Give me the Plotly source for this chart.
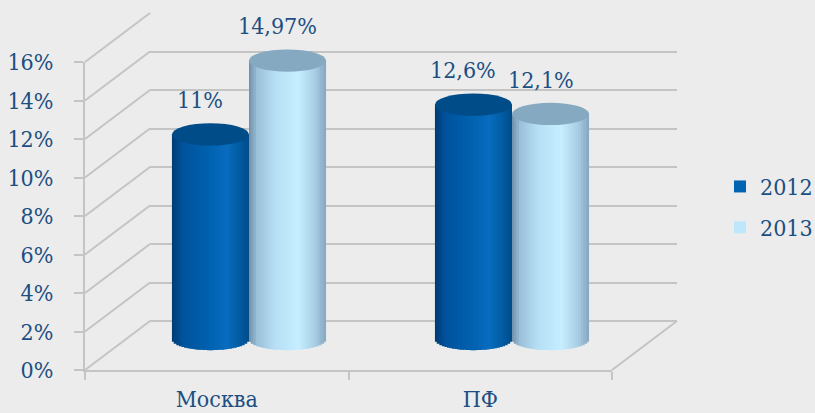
import math
import plotly.graph_objects as go

# ---- data ----
categories = ["Москва", "ПФ"]
series_names = ["2012", "2013"]
values_2012 = [11.0, 12.6]
values_2013 = [14.97, 12.1]
labels_2012 = ["11%", "12,6%"]
labels_2013 = ["14,97%", "12,1%"]
y_ticks = [0, 2, 4, 6, 8, 10, 12, 14, 16]

# ---- style ----
W, H = 815, 413
FONT = "DejaVu Serif Condensed, DejaVu Serif"
FS = 23
TXT = "#1b4f82"
GRID = "#c4c4c4"
BG = "#ececec"

def px_x(p):
    return p / W

def px_y(p):
    return (H - p) / H

# front plane, back wall, bar plane (pixel-derived domains)
front_x = [px_x(85), px_x(612)]
front_y = [px_y(370), px_y(62)]
back_x = [px_x(150), px_x(677)]
back_y = [px_y(321), px_y(13)]
bar_x = [px_x(117.5), px_x(643.5)]
YMAX = 16
BAR_YMIN = -1.0
bar_scale = (339 - 41.4) / YMAX
bar_y = [px_y(339 - BAR_YMIN * bar_scale), px_y(41.4)]

half_w = 0.1465        # cylinder half width (category units)
cap_b = 0.6            # ellipse half height (% units)
N = 30

def hex2rgb(h):
    h = h.lstrip("#")
    return tuple(int(h[i:i + 2], 16) for i in (0, 2, 4))

def interp(stops, t):
    for (t0, c0), (t1, c1) in zip(stops, stops[1:]):
        if t0 <= t <= t1:
            f = 0 if t1 == t0 else (t - t0) / (t1 - t0)
            a, b = hex2rgb(c0), hex2rgb(c1)
            return "rgb(%d,%d,%d)" % tuple(round(a[i] + (b[i] - a[i]) * f) for i in range(3))
    return stops[-1][1]

stops_2012 = [(0, "#003a72"), (0.15, "#00529c"), (0.5, "#0062b0"), (0.72, "#0a6cbe"),
              (0.9, "#005a9f"), (1, "#004a86")]
stops_2013 = [(0, "#6d8ca6"), (0.12, "#9cc1da"), (0.35, "#b6dff5"), (0.65, "#c6eeff"),
              (0.88, "#a6cbe2"), (1, "#84a5be")]
cap_2012 = "#004c88"
cap_2013 = "#86a9c2"

fig = go.Figure()

# front axis anchor trace (categories)
fig.add_trace(go.Scatter(x=categories, y=[0, 0], mode="markers", marker=dict(opacity=0),
                         showlegend=False, hoverinfo="skip", xaxis="x", yaxis="y"))
# back wall anchor trace
fig.add_trace(go.Scatter(x=[0], y=[0], mode="markers", marker=dict(opacity=0),
                         showlegend=False, hoverinfo="skip", xaxis="x2", yaxis="y2"))

shapes = []
annotations = []
series = [("2012", values_2012, labels_2012, stops_2012, cap_2012, -1),
          ("2013", values_2013, labels_2013, stops_2013, cap_2013, 1)]
for name, vals, labs, stops, capc, side in series:
    centers = [i + side * half_w for i in range(len(categories))]
    sw = 2 * half_w / N
    for k in range(N):
        t = (k + 0.5) / N
        u = 2 * t - 1
        off = u * half_w
        base = -cap_b * math.sqrt(max(0.0, 1 - u * u))
        xs = [c + off for c in centers]
        wfac = 1.0 if k in (0, N - 1) else 1.6
        fig.add_trace(go.Bar(
            x=xs, y=[v - base for v in vals], base=[base] * len(vals),
            width=[sw * wfac] * len(vals),
            marker=dict(color=interp(stops, t), line=dict(width=0)),
            name=name, legendgroup=name, showlegend=(k == N // 2),
            hoverinfo="skip", xaxis="x3", yaxis="y3"))
    for c, v, lab in zip(centers, vals, labs):
        shapes.append(dict(type="circle", xref="x3", yref="y3", x0=c - half_w, x1=c + half_w,
                           y0=v - cap_b, y1=v + cap_b, fillcolor=capc, line=dict(width=0),
                           layer="above"))
        annotations.append(dict(x=c, y=v + cap_b, xref="x3", yref="y3", text=lab,
                                showarrow=False, yanchor="bottom", xshift=-10, yshift=8,
                                font=dict(family=FONT, size=FS, color=TXT)))

# side-wall / floor diagonals
def fy(v):
    return front_y[0] + v / YMAX * (front_y[1] - front_y[0])

def by(v):
    return back_y[0] + v / YMAX * (back_y[1] - back_y[0])

for v in y_ticks:
    shapes.append(dict(type="line", xref="paper", yref="paper", x0=front_x[0], y0=fy(v),
                       x1=back_x[0], y1=by(v), line=dict(color=GRID, width=2), layer="below"))
shapes.append(dict(type="line", xref="paper", yref="paper", x0=front_x[1], y0=fy(0),
                   x1=back_x[1], y1=by(0), line=dict(color=GRID, width=2), layer="below"))

fig.update_layout(
    width=W, height=H, autosize=False,
    margin=dict(l=0, r=0, t=0, b=0, autoexpand=False),
    paper_bgcolor=BG, plot_bgcolor="rgba(0,0,0,0)",
    barmode="overlay",
    font=dict(family=FONT, size=FS, color=TXT),
    xaxis=dict(domain=front_x, anchor="y", type="category", categoryarray=categories,
               range=[-0.5, 1.5], showgrid=False, zeroline=False, showline=True,
               linecolor=GRID, linewidth=2, ticks="outside", ticklen=8, tickwidth=2,
               tickcolor=GRID, tickson="boundaries", automargin=False,
               ticklabelstandoff=7,
               tickfont=dict(family=FONT, size=FS, color=TXT)),
    yaxis=dict(domain=front_y, anchor="x", range=[0, YMAX], tickvals=y_ticks,
               ticktext=[f"{t}%" for t in y_ticks], showgrid=False, zeroline=False,
               showline=True, linecolor=GRID, linewidth=2, ticks="outside", ticklen=9,
               tickwidth=2, tickcolor=GRID, ticklabelstandoff=16, automargin=False,
               tickfont=dict(family=FONT, size=FS, color=TXT)),
    xaxis2=dict(domain=back_x, anchor="y2", range=[0, 1], showgrid=False, zeroline=False,
                showline=False, showticklabels=False, ticks="", automargin=False),
    yaxis2=dict(domain=back_y, anchor="x2", range=[0, YMAX], tickvals=y_ticks,
                showgrid=True, gridcolor=GRID, gridwidth=2, zeroline=True,
                zerolinecolor=GRID, zerolinewidth=2, showline=False,
                showticklabels=False, ticks="", automargin=False),
    xaxis3=dict(domain=bar_x, anchor="y3", range=[-0.5, 1.5], visible=False, automargin=False),
    yaxis3=dict(domain=bar_y, anchor="x3", range=[BAR_YMIN, YMAX], visible=False,
                automargin=False),
    shapes=shapes, annotations=annotations,
    legend=dict(x=px_x(720), y=px_y(207), xanchor="left", yanchor="middle",
                bgcolor="rgba(0,0,0,0)", traceorder="grouped", tracegroupgap=8,
                font=dict(family=FONT, size=FS, color=TXT)),
    showlegend=True,
)

fig.write_html("out.html", config={"displayModeBar": False},
               post_script="document.body.style.margin='0';document.body.style.overflow='hidden';")
